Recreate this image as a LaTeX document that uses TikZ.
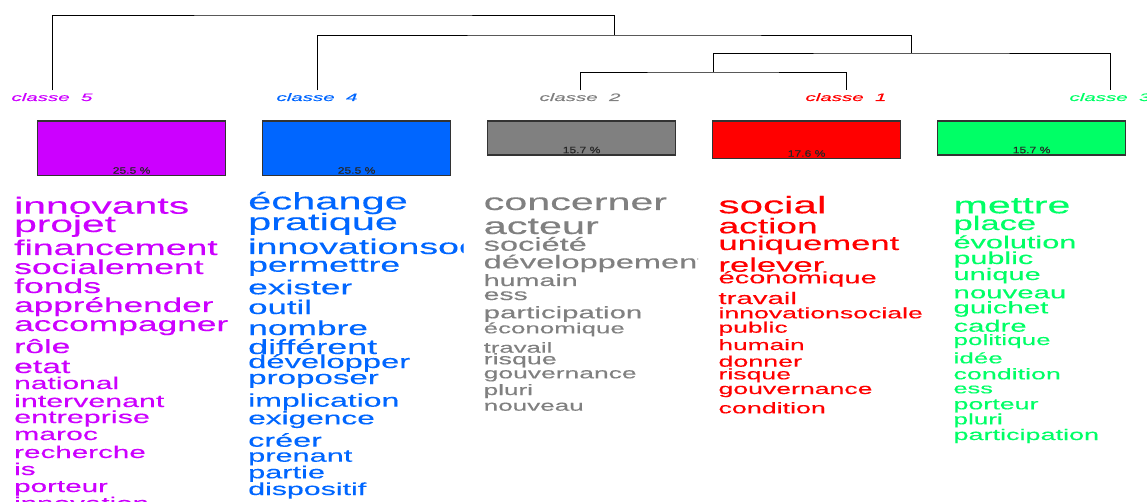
\documentclass[tikz,border=0pt]{standalone}
\usepackage{fontspec}
\newfontfamily\wordfont{Liberation Sans}[FakeStretch=1.75,FakeBold=0.3]
\newfontfamily\labelfont{Liberation Sans}[FakeStretch=1.9,FakeBold=0.2]
\newfontfamily\pctfont{Liberation Sans}[FakeStretch=1.3,FakeBold=0.2]
\definecolor{cfive}{HTML}{CC00FF}
\definecolor{cfour}{HTML}{0066FF}
\definecolor{ctwo}{HTML}{808080}
\definecolor{cone}{HTML}{FF0000}
\definecolor{cthree}{HTML}{00FF66}
% word size: base size times the height factor of the word cloud
\newcommand\wordsize[1]{\pgfmathsetmacro\fsz{#1*1.057}\wordfont\fontsize{\fsz}{\fsz}\selectfont}
\begin{document}
\begin{tikzpicture}[x=1pt,y=-1pt,
  tree/.style={draw=black, line width=0.9pt},
  cls/.style={font=\labelfont\itshape\fontsize{10.8}{10.8}\selectfont, inner sep=0pt, anchor=base},
  bar/.style={draw=black!80, line width=1.2pt, anchor=north west, inner sep=0pt, minimum width=188pt},
  pct/.style={font=\pctfont\fontsize{9.3}{9.3}\selectfont, text=black!85, inner sep=0pt, anchor=base},
  word/.style={inner sep=0pt, anchor=base west}]
\useasboundingbox (0,0) rectangle (1147,502);
\clip (0,0) rectangle (1147,502);

% class labels
\node[cls, text=cfive]  (l5) at (52,101)   {classe~~5};
\node[cls, text=cfour]  (l4) at (317,101)  {classe~~4};
\node[cls, text=ctwo]   (l2) at (580,101)  {classe~~2};
\node[cls, text=cone]   (l1) at (846,101)  {classe~~1};
\node[cls, text=cthree] (l3) at (1110,101) {classe~~3};

% dendrogram
\coordinate (m4) at (713,72);
\coordinate (m3) at (911,53);
\coordinate (m2) at (614,35);
\coordinate (m1) at (333,15);
\draw[tree] ([yshift=2.5pt]l2.north) |- (m4) -| ([yshift=2.5pt]l1.north);
\draw[tree] (m4) |- (m3) -| ([yshift=2.5pt]l3.north);
\draw[tree] ([yshift=2.5pt]l4.north) |- (m2) -| (m3);
\draw[tree] ([yshift=2.5pt]l5.north) |- (m1) -| (m2);

% class size bars
\node[bar, fill=cfive,  minimum height=54.5pt] (b5) at (37,120.5)  {};
\node[bar, fill=cfour,  minimum height=54.5pt] (b4) at (262,120.5) {};
\node[bar, fill=ctwo,   minimum height=34pt]   (b2) at (487,120.5) {};
\node[bar, fill=cone,   minimum height=37.5pt] (b1) at (712,120.5) {};
\node[bar, fill=cthree, minimum height=34pt]   (b3) at (937,120.5) {};
\node[pct] (p5) at ([yshift=2.5pt]b5.south) {25.5 \%};
\node[pct] (p4) at ([yshift=2.5pt]b4.south) {25.5 \%};
\node[pct] (p2) at ([yshift=2.5pt]b2.south) {15.7 \%};
\node[pct] (p1) at ([yshift=2.5pt]b1.south) {17.6 \%};
\node[pct] (p3) at ([yshift=2.5pt]b3.south) {15.7 \%};

% word lists
\foreach \yy/\sz/\txt [count=\i] in {213.7/22.1/innovants, 232/22/projet,
  255/20.2/financement, 274/19.2/socialement, 293/19.2/fonds,
  312/19/appréhender, 331/19.1/accompagner, 353/18.2/rôle, 373/18.2/etat,
  389/16.2/national, 407/16.4/intervenant, 423/16.5/entreprise,
  440/16.3/maroc, 458/16/recherche, 475/16/is, 492/16/porteur,
  509/16/innovation}
  \node[word, text=cfive, font=\wordsize{\sz}] (wfive\i) at (14,\yy) {\txt};

\begin{scope}
\clip (240,180) rectangle (463.5,502);
\foreach \yy/\sz/\txt [count=\i] in {209.3/22.5/échange, 230/22.4/pratique,
  254/20.3/innovationsociale, 271.7/19.2/permettre, 294.3/19.1/exister,
  314/18.8/outil, 335/19.1/nombre, 354/19.4/différent,
  368/17.7/développer, 384/17.9/proposer, 406.7/17.3/implication,
  424.3/17.1/exigence, 446.7/17.5/créer, 461.7/16.6/prenant,
  478.3/16.6/partie, 495/16.4/dispositif}
  \node[word, text=cfour, font=\wordsize{\sz}] (wfour\i) at (248,\yy) {\txt};
\end{scope}

\begin{scope}
\clip (475,180) rectangle (698,502);
\foreach \yy/\sz/\txt [count=\i] in {210/22.3/concerner, 234/22.4/acteur,
  250.7/17.6/société, 268.3/17.6/développement, 286/15.5/humain,
  300/15.3/ess, 318.3/15.9/participation, 333.3/14/économique,
  352.7/13.9/travail, 364.3/14.5/risque, 378.3/14.3/gouvernance,
  395/14.1/pluri, 410.7/14.1/nouveau}
  \node[word, text=ctwo, font=\wordsize{\sz}] (wtwo\i) at (483.5,\yy) {\txt};
\end{scope}

\foreach \yy/\sz/\txt [count=\i] in {213.3/22.8/social, 233.3/20.1/action,
  250/18.7/uniquement, 271.7/18.7/relever, 283.3/15.7/économique,
  304/15.9/travail, 318.3/14.4/innovationsociale, 332.7/14.3/public,
  350/14.2/humain, 366.7/14.5/donner, 379.3/14.4/risque,
  394/14.4/gouvernance, 413.3/14.5/condition}
  \node[word, text=cone, font=\wordsize{\sz}] (wone\i) at (718.3,\yy) {\txt};

\foreach \yy/\sz/\txt [count=\i] in {213.3/22.3/mettre, 230/18.7/place,
  248.3/16.6/évolution, 264/16.5/public, 280/15.7/unique,
  298.3/15.9/nouveau, 313.3/15.9/guichet, 331.7/15.8/cadre,
  345/14.1/politique, 363.3/14.1/idée, 379.3/14.5/condition,
  393.3/13.7/ess, 409.3/14.5/porteur, 424.3/14.1/pluri,
  440/14.6/participation}
  \node[word, text=cthree, font=\wordsize{\sz}] (wthree\i) at (953.3,\yy) {\txt};
\end{tikzpicture}
\end{document}
